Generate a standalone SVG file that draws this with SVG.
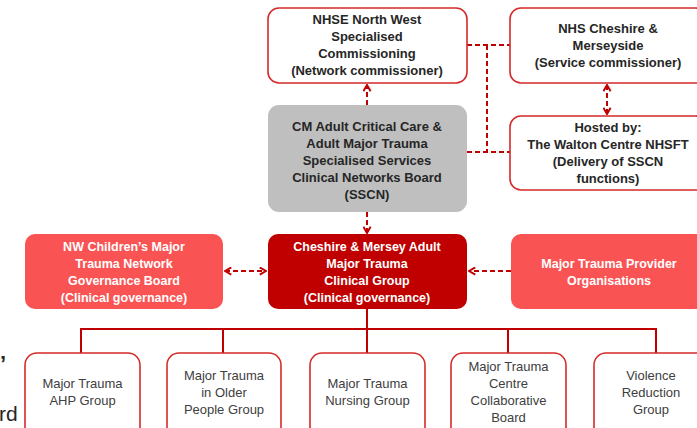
<svg xmlns="http://www.w3.org/2000/svg" width="697" height="428" viewBox="0 0 697 428">
<defs>
<style>
.wbox{fill:#ffffff;stroke:#d42a2a;stroke-width:1.6}
.gbox{fill:#bfbfbf;stroke:none}
.lbox{fill:#fa5353;stroke:none}
.dbox{fill:#c00000;stroke:none}
.bt{font-family:"Liberation Sans",Arial,sans-serif;font-size:13px;font-weight:bold;text-anchor:middle;fill:#262626}
.wt{font-family:"Liberation Sans",Arial,sans-serif;font-size:12.5px;font-weight:bold;text-anchor:middle;fill:#ffffff}
.rt{font-family:"Liberation Sans",Arial,sans-serif;font-size:13px;text-anchor:middle;fill:#404040}
.dash{fill:none;stroke:#c00000;stroke-width:2;stroke-dasharray:5 3}
.solid{fill:none;stroke:#c00000;stroke-width:2}
</style>
<marker id="ah" viewBox="0 0 10 10" refX="9" refY="5" markerWidth="9" markerHeight="9" orient="auto-start-reverse" markerUnits="userSpaceOnUse">
<path d="M2,1 L9,5 L2,9" fill="none" stroke="#c00000" stroke-width="2.2"/>
</marker>
</defs>

<text x="0" y="371" font-family="Liberation Sans,Arial,sans-serif" font-size="22" font-weight="bold" fill="#262626">’</text>
<text x="-1" y="421" font-family="Liberation Sans,Arial,sans-serif" font-size="21" fill="#262626">rd</text>

<g id="connectors">
<path class="dash" d="M467,45 H510"/>
<path class="dash" d="M487,45 V152"/>
<path class="dash" d="M467,152 H510"/>
<path class="dash" d="M367,105 V85" marker-end="url(#ah)"/>
<path class="dash" d="M607,85 V114" marker-start="url(#ah)" marker-end="url(#ah)"/>
<path class="dash" d="M367,212 V233" marker-end="url(#ah)"/>
<path class="dash" d="M225,271 H266" marker-start="url(#ah)" marker-end="url(#ah)"/>
<path class="dash" d="M511,271 H469" marker-end="url(#ah)"/>
<path class="solid" d="M367,309 V329"/>
<path class="solid" d="M81,353 V329 H656 V353"/>
<path class="solid" d="M223,329 V353"/>
<path class="solid" d="M367,329 V353"/>
<path class="solid" d="M508,329 V353"/>
</g>

<g id="nhse">
<rect class="wbox" x="268" y="8" width="199" height="75" rx="11"/>
<text class="bt"><tspan x="367" y="24">NHSE North West</tspan><tspan x="367" y="41">Specialised</tspan><tspan x="367" y="58">Commissioning</tspan><tspan x="367" y="75">(Network commissioner)</tspan></text>
</g>

<g id="nhs-cm">
<rect class="wbox" x="510" y="8" width="196" height="75" rx="11"/>
<text class="bt"><tspan x="608" y="33">NHS Cheshire &amp;</tspan><tspan x="608" y="50">Merseyside</tspan><tspan x="608" y="67">(Service commissioner)</tspan></text>
</g>

<g id="hosted">
<rect class="wbox" x="510" y="116" width="196" height="74" rx="11"/>
<text class="bt"><tspan x="608" y="132">Hosted by:</tspan><tspan x="608" y="149">The Walton Centre NHSFT</tspan><tspan x="608" y="166">(Delivery of SSCN</tspan><tspan x="608" y="183">functions)</tspan></text>
</g>

<g id="sscn">
<rect class="gbox" x="268" y="105" width="199" height="107" rx="11"/>
<text class="bt"><tspan x="367" y="131">CM Adult Critical Care &amp;</tspan><tspan x="367" y="148">Adult Major Trauma</tspan><tspan x="367" y="165">Specialised Services</tspan><tspan x="367" y="182">Clinical Networks Board</tspan><tspan x="367" y="199">(SSCN)</tspan></text>
</g>

<g id="nw-children">
<rect class="lbox" x="25" y="234" width="198" height="75" rx="10"/>
<text class="wt"><tspan x="124" y="251">NW Children’s Major</tspan><tspan x="124" y="268">Trauma Network</tspan><tspan x="124" y="285">Governance Board</tspan><tspan x="124" y="302">(Clinical governance)</tspan></text>
</g>

<g id="cm-group">
<rect class="dbox" x="268" y="234" width="199" height="75" rx="10"/>
<text class="wt"><tspan x="367" y="251">Cheshire &amp; Mersey Adult</tspan><tspan x="367" y="268">Major Trauma</tspan><tspan x="367" y="285">Clinical Group</tspan><tspan x="367" y="302">(Clinical governance)</tspan></text>
</g>

<g id="providers">
<rect class="lbox" x="511" y="234" width="196" height="75" rx="10"/>
<text class="wt"><tspan x="609" y="268">Major Trauma Provider</tspan><tspan x="609" y="285">Organisations</tspan></text>
</g>

<g id="ahp">
<rect class="wbox" x="25" y="353" width="115" height="90" rx="12"/>
<text class="rt"><tspan x="82.5" y="388">Major Trauma</tspan><tspan x="82.5" y="405">AHP Group</tspan></text>
</g>

<g id="older">
<rect class="wbox" x="167" y="353" width="114" height="90" rx="12"/>
<text class="rt"><tspan x="224" y="380">Major Trauma</tspan><tspan x="224" y="397">in Older</tspan><tspan x="224" y="414">People Group</tspan></text>
</g>

<g id="nursing">
<rect class="wbox" x="310" y="353" width="115" height="90" rx="12"/>
<text class="rt"><tspan x="367.5" y="388">Major Trauma</tspan><tspan x="367.5" y="405">Nursing Group</tspan></text>
</g>

<g id="mtc-board">
<rect class="wbox" x="451" y="353" width="115" height="90" rx="12"/>
<text class="rt"><tspan x="508.5" y="371">Major Trauma</tspan><tspan x="508.5" y="388">Centre</tspan><tspan x="508.5" y="405">Collaborative</tspan><tspan x="508.5" y="422">Board</tspan></text>
</g>

<g id="violence">
<rect class="wbox" x="594" y="353" width="115" height="90" rx="12"/>
<text class="rt"><tspan x="651" y="380">Violence</tspan><tspan x="651" y="397">Reduction</tspan><tspan x="651" y="414">Group</tspan></text>
</g>
</svg>
